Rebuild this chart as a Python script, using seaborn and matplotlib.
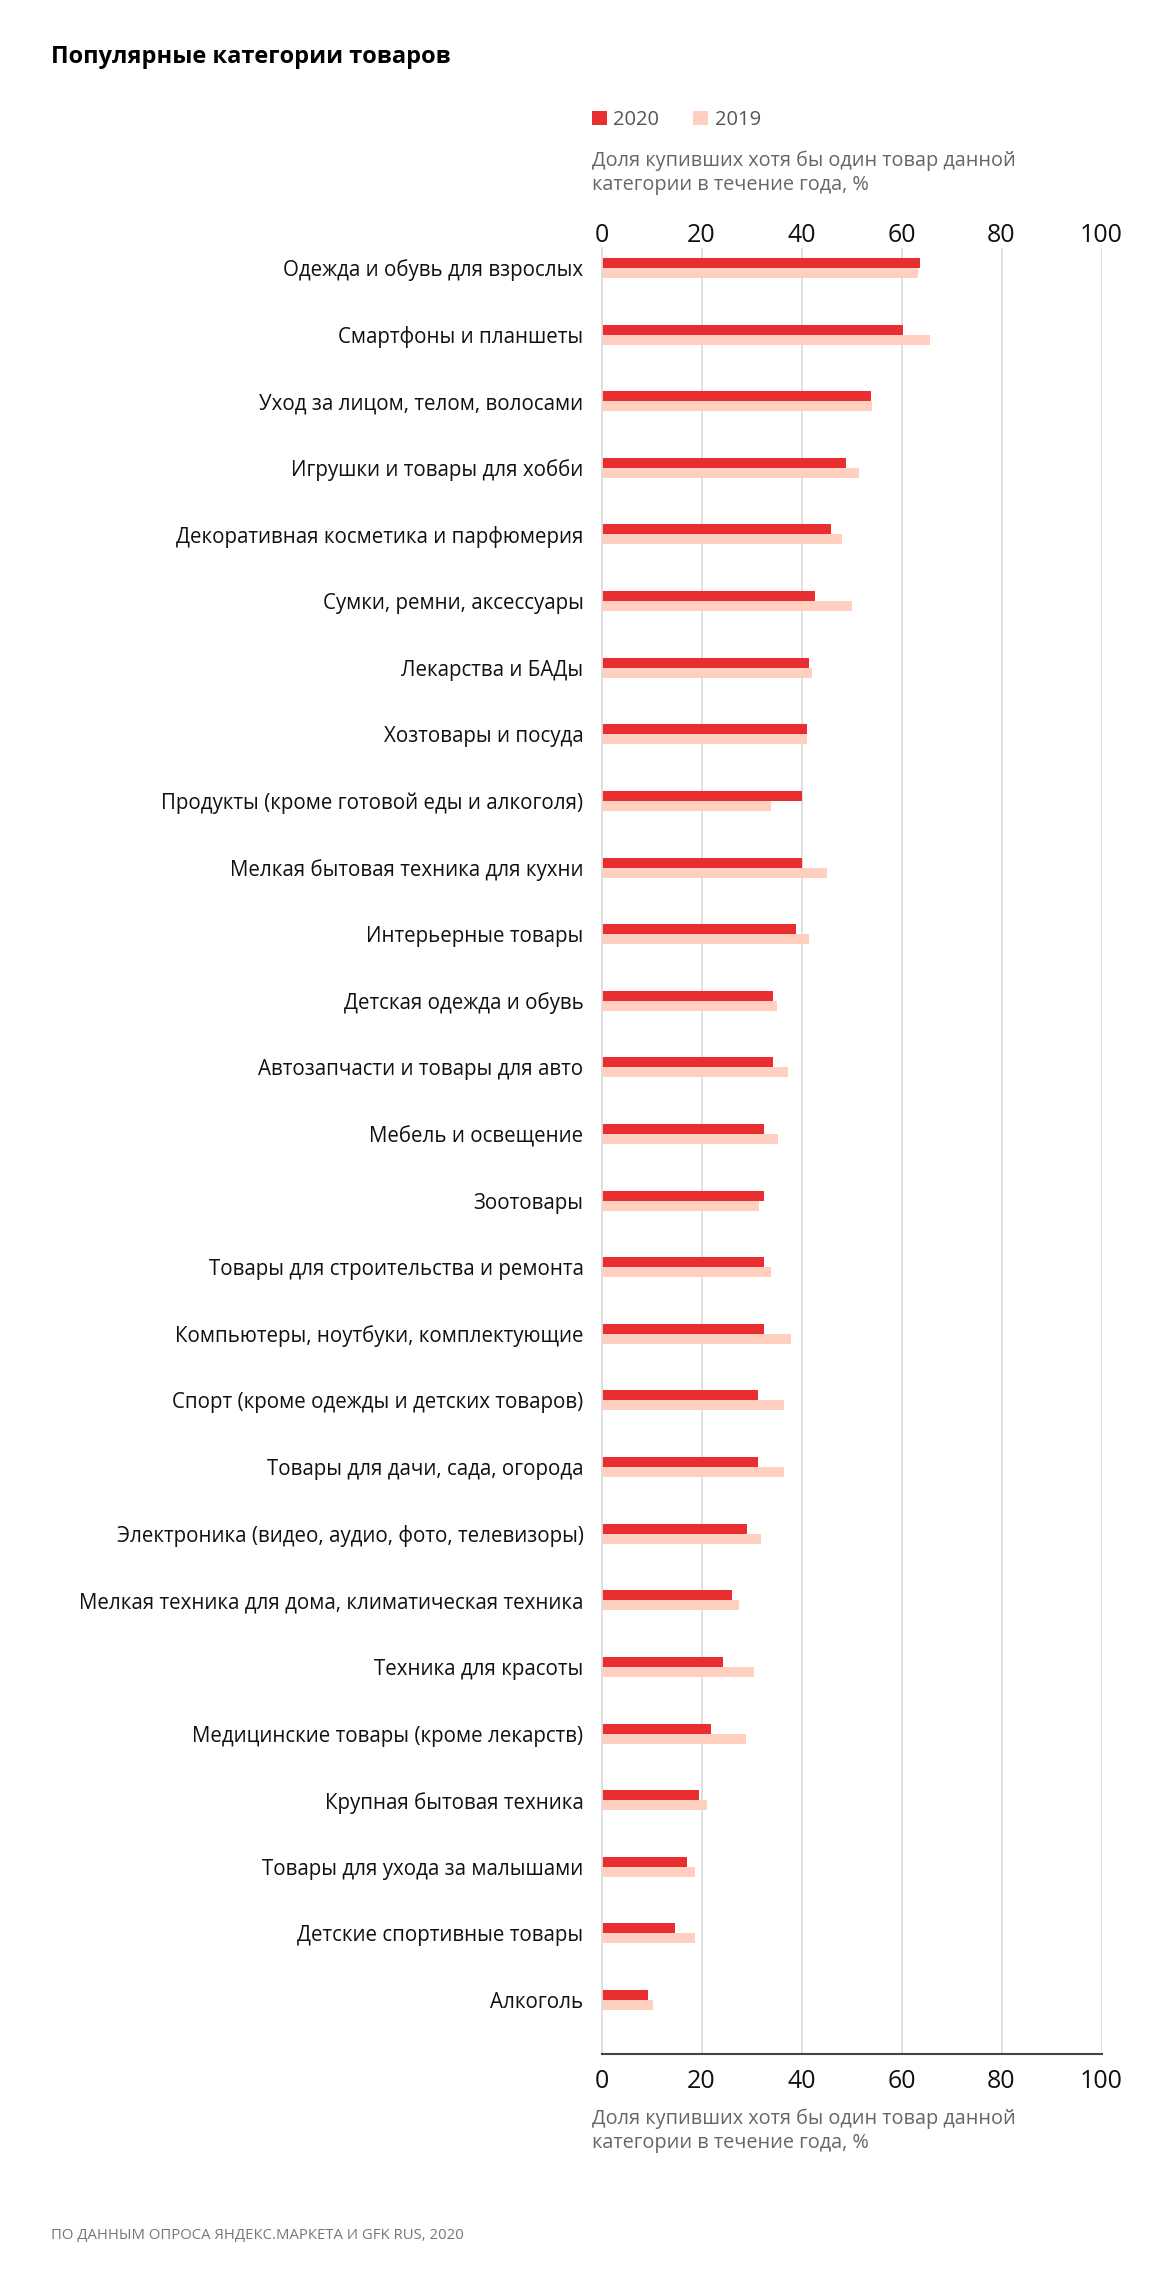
import pandas as pd
import seaborn as sns
import matplotlib.pyplot as plt
from matplotlib.patches import Patch

categories = [
    "Одежда и обувь для взрослых",
    "Смартфоны и планшеты",
    "Уход за лицом, телом, волосами",
    "Игрушки и товары для хобби",
    "Декоративная косметика и парфюмерия",
    "Сумки, ремни, аксессуары",
    "Лекарства и БАДы",
    "Хозтовары и посуда",
    "Продукты (кроме готовой еды и алкоголя)",
    "Мелкая бытовая техника для кухни",
    "Интерьерные товары",
    "Детская одежда и обувь",
    "Автозапчасти и товары для авто",
    "Мебель и освещение",
    "Зоотовары",
    "Товары для строительства и ремонта",
    "Компьютеры, ноутбуки, комплектующие",
    "Спорт (кроме одежды и детских товаров)",
    "Товары для дачи, сада, огорода",
    "Электроника (видео, аудио, фото, телевизоры)",
    "Мелкая техника для дома, климатическая техника",
    "Техника для красоты",
    "Медицинские товары (кроме лекарств)",
    "Крупная бытовая техника",
    "Товары для ухода за малышами",
    "Детские спортивные товары",
    "Алкоголь",
]
share_2020 = [63.6, 60.2, 53.8, 48.9, 45.8, 42.6, 41.5, 41.1, 40.1, 40.1,
              38.9, 34.2, 34.2, 32.4, 32.4, 32.4, 32.4, 31.2, 31.2, 29.1,
              26.1, 24.2, 21.8, 19.4, 17.1, 14.6, 9.2]
share_2019 = [63.2, 65.7, 54.1, 51.4, 48.1, 50.1, 42.1, 41.1, 33.9, 45.1,
              41.4, 35.1, 37.2, 35.3, 31.4, 33.9, 37.9, 36.4, 36.4, 31.8,
              27.5, 30.4, 28.9, 21.1, 18.7, 18.7, 10.2]
years = ["2020", "2019"]
x_ticks = [0, 20, 40, 60, 80, 100]
axis_label = "Доля купивших хотя бы один товар данной\nкатегории в течение года, %"

df = pd.DataFrame({
    "category": categories * 2,
    "share": share_2020 + share_2019,
    "year": [years[0]] * len(categories) + [years[1]] * len(categories),
})

colors = {"2020": "#E82E30", "2019": "#FFCFBF"}

sns.set_theme(style="white")
plt.rcParams["font.family"] = ["Open Sans", "DejaVu Sans"]

W, H = 1154, 2276
fig = plt.figure(figsize=(W / 100, H / 100), dpi=100)
ax = fig.add_axes([601.5 / W, 1 - 2054 / H, 500 / W, (2054 - 248) / H])

sns.barplot(data=df, x="share", y="category", hue="year", hue_order=years,
            palette=colors, width=0.3, linewidth=0, saturation=1,
            legend=False, ax=ax, orient="h")

ax.set_xlim(0, 100)
ax.set_ylim(len(categories) - 1 + 0.81, -0.3)
ax.set_xticks(x_ticks)
ax.set_xticklabels([str(t) for t in x_ticks])
ax.set_xlabel("")
ax.set_ylabel("")
ax.tick_params(axis="x", length=0, labelsize=18, labelcolor="#111111", pad=10.5)
ax.tick_params(axis="y", length=0, labelsize=14.8, labelcolor="#111111", pad=13)
ax.xaxis.grid(True, color="#DDDDDD", linewidth=1.3)
ax.set_axisbelow(True)
for side in ["top", "right"]:
    ax.spines[side].set_visible(False)
ax.spines["left"].set_color("#DDDDDD")
ax.spines["left"].set_linewidth(1.3)
ax.spines["bottom"].set_color("#444444")
ax.spines["bottom"].set_linewidth(1.5)

# top tick labels repeat the scale
top = ax.secondary_xaxis("top")
top.set_xticks(x_ticks)
top.set_xticklabels([str(t) for t in x_ticks])
top.tick_params(length=0, labelsize=18, labelcolor="#111111", pad=0)
top.spines["top"].set_visible(False)

fig.text(51 / W, 1 - 57 / H, "Популярные категории товаров",
         fontsize=17, fontweight="bold", color="#000000", va="center", ha="left")

handles = [Patch(facecolor=colors[y], edgecolor="none", label=y) for y in years]
fig.legend(handles=handles, loc="center left",
           bbox_to_anchor=(592 / W, 1 - 120 / H), ncol=2, frameon=False,
           fontsize=14.5, handlelength=0.75, handleheight=0.75, handletextpad=0.3,
           columnspacing=1.7, labelcolor="#555555", borderpad=0, borderaxespad=0)

fig.text(592 / W, 1 - 173 / H, axis_label, fontsize=14.3, color="#666666",
         va="center", ha="left", linespacing=1.3)
fig.text(592 / W, 1 - 2131 / H, axis_label, fontsize=14.3, color="#666666",
         va="center", ha="left", linespacing=1.3)

fig.text(51 / W, 1 - 2236 / H, "ПО ДАННЫМ ОПРОСА ЯНДЕКС.МАРКЕТА И GFK RUS, 2020",
         fontsize=10.7, color="#777777", va="center", ha="left")

fig.savefig("out.png", dpi=100)
plt.close(fig)
